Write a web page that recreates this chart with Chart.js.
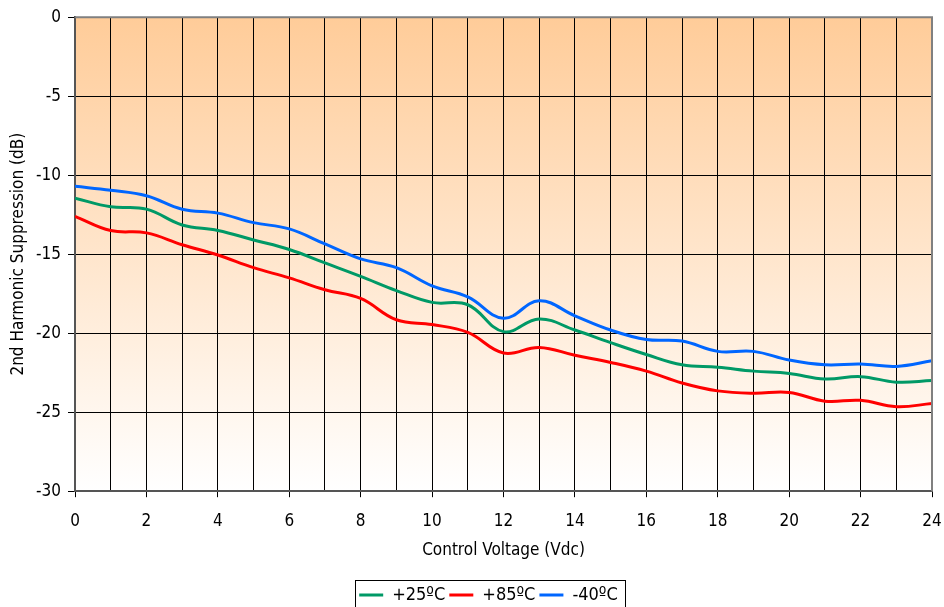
<!DOCTYPE html>
<html>
<head>
<meta charset="utf-8">
<script src="https://cdn.jsdelivr.net/npm/chart.js@4"></script>
<style>
  html, body { margin: 0; padding: 0; background: #fff; }
  #wrap { width: 944px; height: 607px; }
</style>
</head>
<body>
<div id="wrap"><canvas id="myChart"></canvas></div>
<script>
let volts = [0, 1, 2, 3, 4, 5, 6, 7, 8, 9, 10, 11, 12, 13, 14, 15, 16, 17, 18, 19, 20, 21, 22, 23, 24];
let plus25 = [-11.45, -12.0, -12.15, -13.15, -13.5, -14.1, -14.7, -15.55, -16.4, -17.3, -18.05, -18.2, -19.9, -19.1, -19.8, -20.6, -21.35, -22.0, -22.15, -22.4, -22.55, -22.9, -22.75, -23.1, -23.0];
let plus85 = [-12.6, -13.5, -13.65, -14.4, -15.05, -15.85, -16.5, -17.25, -17.8, -19.15, -19.45, -19.95, -21.25, -20.9, -21.4, -21.85, -22.4, -23.15, -23.65, -23.8, -23.75, -24.3, -24.25, -24.65, -24.45];
let minus40 = [-10.7, -10.95, -11.3, -12.15, -12.4, -13.0, -13.4, -14.35, -15.3, -15.85, -17.0, -17.7, -19.05, -17.95, -18.9, -19.8, -20.4, -20.5, -21.15, -21.15, -21.7, -22.0, -21.95, -22.1, -21.75];
let yTicks = [0, -5, -10, -15, -20, -25, -30];

let fontFam = '"DejaVu Sans Condensed", "DejaVu Sans", sans-serif';

function pts(arr) {
    return arr.map((v, i) => ({ x: volts[i], y: v }));
}

let bgPlugin = {
    id: 'plotBg',
    afterUpdate(chart) {
        // nudge the legend a little left and down
        let l = chart.legend;
        let dx = -15, dy = 7;
        l.left += dx; l.right += dx;
        l.top += dy; l.bottom += dy;
        l.legendHitBoxes.forEach(b => { b.left += dx; b.top += dy; });
    },
    beforeDraw(chart) {
        let a = chart.chartArea;
        let ctx = chart.ctx;
        let g = ctx.createLinearGradient(0, a.top, 0, a.bottom);
        g.addColorStop(0, '#FFCC99');
        g.addColorStop(1, '#FFFFFF');
        ctx.save();
        ctx.fillStyle = g;
        ctx.fillRect(a.left, a.top, a.right - a.left, a.bottom - a.top);
        ctx.restore();
    },
    afterDraw(chart) {
        let a = chart.chartArea;
        let ctx = chart.ctx;
        ctx.save();
        ctx.strokeStyle = '#808080';
        ctx.lineWidth = 2;
        ctx.beginPath();
        ctx.moveTo(a.left, a.top);
        ctx.lineTo(a.right, a.top);
        ctx.lineTo(a.right, a.bottom);
        ctx.stroke();
        // box round the legend items
        let hb = chart.legend.legendHitBoxes;
        if (hb && hb.length) {
            let x0 = Math.min(...hb.map(b => b.left)) - 4;
            let x1 = Math.max(...hb.map(b => b.left + b.width)) + 7;
            let y0 = Math.min(...hb.map(b => b.top)) - 6;
            ctx.strokeStyle = '#000';
            ctx.lineWidth = 1;
            ctx.strokeRect(Math.round(x0) + 0.5, Math.round(y0) + 0.5, Math.round(x1 - x0), 60);
        }
        ctx.restore();
    }
};

let ctx = document.getElementById('myChart').getContext('2d');
let chart = new Chart(ctx, {
    type: 'line',
    data: {
        datasets: [
            { label: '+25ºC', data: pts(plus25), borderColor: '#009966', backgroundColor: '#009966', borderWidth: 3 },
            { label: '+85ºC', data: pts(plus85), borderColor: '#FF0000', backgroundColor: '#FF0000', borderWidth: 3 },
            { label: '-40ºC', data: pts(minus40), borderColor: '#0066FF', backgroundColor: '#0066FF', borderWidth: 3 }
        ]
    },
    options: {
        responsive: true,
        maintainAspectRatio: false,
        animation: false,
        layout: { padding: { left: 0, top: 8, right: 0, bottom: 0 } },
        elements: {
            line: { borderWidth: 3, tension: 0.4, fill: false },
            point: { radius: 0 }
        },
        scales: {
            x: {
                type: 'linear',
                min: 0,
                max: 24,
                afterFit: s => { s.paddingRight = 12; },
                ticks: {
                    stepSize: 1,
                    autoSkip: false,
                    maxRotation: 0,
                    color: '#000',
                    font: { family: fontFam, size: 17 },
                    padding: 14,
                    callback: v => (v % 2 === 0 ? v : '')
                },
                grid: {
                    color: '#000',
                    lineWidth: 1,
                    tickLength: 6,
                    tickColor: c => (c.tick && c.tick.value % 2 === 0 ? '#000' : 'rgba(0,0,0,0)')
                },
                border: { color: '#555', width: 2 },
                title: {
                    display: true,
                    text: 'Control Voltage (Vdc)',
                    color: '#000',
                    font: { family: fontFam, size: 17 },
                    padding: { top: -5, bottom: 14 }
                }
            },
            y: {
                min: -30,
                max: 0,
                afterBuildTicks: s => { s.ticks = yTicks.map(v => ({ value: v })); },
                afterFit: s => { s.width = 75; },
                ticks: {
                    color: '#000',
                    font: { family: fontFam, size: 17 },
                    padding: 7
                },
                grid: { color: '#000', lineWidth: 1, tickLength: 7 },
                border: { color: '#555', width: 2 },
                title: {
                    display: true,
                    text: '2nd Harmonic Suppression (dB)',
                    color: '#000',
                    font: { family: fontFam, size: 17 },
                    padding: { top: 8, bottom: 0 }
                }
            }
        },
        plugins: {
            legend: {
                position: 'bottom',
                fullSize: false,
                labels: {
                    usePointStyle: true,
                    pointStyle: 'line',
                    pointStyleWidth: 24,
                    color: '#000',
                    font: { family: fontFam, size: 18 },
                    padding: 4
                }
            },
            tooltip: { enabled: false }
        }
    },
    plugins: [bgPlugin]
});
</script>
</body>
</html>
